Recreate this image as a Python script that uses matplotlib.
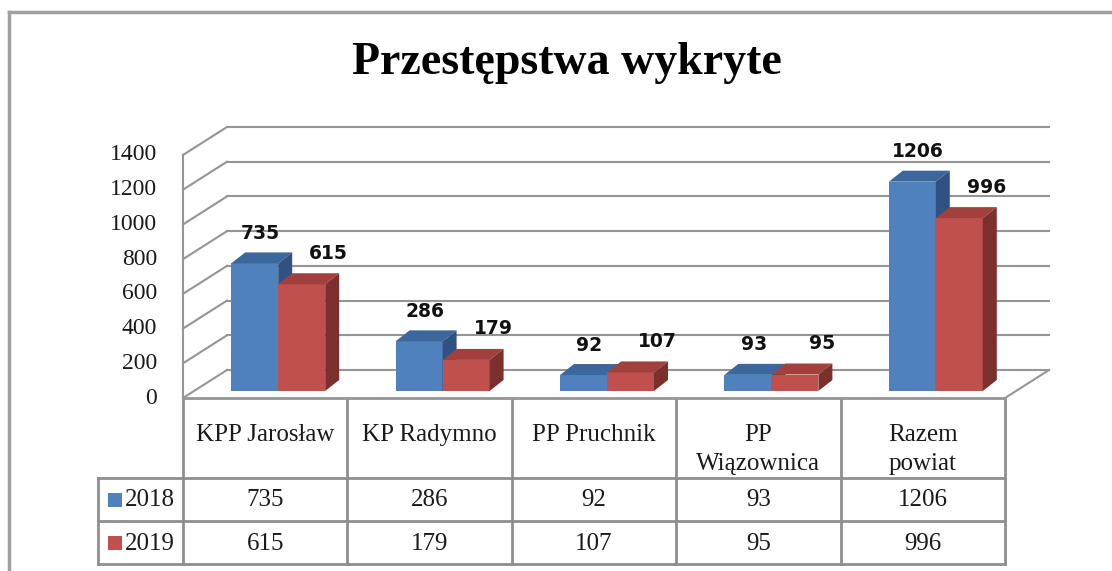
import matplotlib
matplotlib.use("Agg")
import matplotlib.pyplot as plt
from matplotlib.patches import Polygon, Rectangle

# ---------------- data ----------------
categories = ["KPP Jarosław", "KP Radymno", "PP Pruchnik", "PP\nWiązownica", "Razem\npowiat"]
series_names = ["2018", "2019"]
values_2018 = [735, 286, 92, 93, 1206]
values_2019 = [615, 179, 107, 95, 996]
y_ticks = [0, 200, 400, 600, 800, 1000, 1200, 1400]
title = "Przestępstwa wykryte"

# ---------------- style ----------------
front_cols = ["#4F81BD", "#C0504D"]
top_cols = ["#3C679C", "#A1403D"]
side_cols = ["#2F5283", "#7C302E"]
grid_col = "#959595"
serif = ["Liberation Serif", "DejaVu Serif"]
sans = ["DejaVu Sans"]

W, H = 1112, 571
fig = plt.figure(figsize=(W / 100, H / 100), dpi=100)

# layout (pixels)
X0, X1 = 183, 1005     # front floor edge
YZ, YT = 398, 155      # front plane: value 0 and 1400
ax = fig.add_axes([X0 / W, 1 - YZ / H, (X1 - X0) / W, (YZ - YT) / H])
ncat = len(categories)
ax.set_xlim(0, ncat)
ax.set_ylim(0, y_ticks[-1])
ax.axis("off")

sx = (X1 - X0) / ncat            # px per category
sy = (YZ - YT) / y_ticks[-1]     # px per value unit


def ddx(px):
    return px / sx


def ddy(px):
    return px / sy


# walls
WDX, WDY = 44, 28
for t in y_ticks:
    ax.plot([0, ddx(WDX)], [t, t + ddy(WDY)], color=grid_col, lw=1.5, clip_on=False, zorder=1)
    ax.plot([ddx(WDX), ncat + ddx(WDX)], [t + ddy(WDY)] * 2, color=grid_col, lw=1.5,
            clip_on=False, zorder=1)
ax.plot([0, 0], [0, y_ticks[-1]], color=grid_col, lw=1.5, clip_on=False, zorder=1)
ax.plot([ncat, ncat + ddx(WDX)], [0, ddy(WDY)], color=grid_col, lw=1.5, clip_on=False, zorder=1)

# y tick labels
for t in y_ticks:
    ax.text(-ddx(26), t, str(t), ha="right", va="center", fontsize=17,
            family=serif, color="#1a1a1a", clip_on=False)

# bars
PDX, PDY = 13, 7      # plane of the bars
BW = 47               # bar width (px)
BDX, BDY = 14, 11     # bar depth
label_off = [(6, 30), (27, 31)]
base = ddy(PDY)
for i in range(ncat):
    c = i + 0.5 + ddx(PDX)
    for s, vals in enumerate([values_2018, values_2019]):
        v = vals[i]
        x0 = c - ddx(BW) + s * ddx(BW)
        x1 = x0 + ddx(BW)
        top = base + v
        z = 3 + s
        ax.add_patch(Rectangle((x0, base), ddx(BW), v, facecolor=front_cols[s],
                               edgecolor="none", clip_on=False, zorder=z))
        ax.add_patch(Polygon([(x0, top), (x1, top), (x1 + ddx(BDX), top + ddy(BDY)),
                              (x0 + ddx(BDX), top + ddy(BDY))], closed=True,
                             facecolor=top_cols[s], edgecolor="none", clip_on=False, zorder=z))
        ax.add_patch(Polygon([(x1, base), (x1 + ddx(BDX), base + ddy(BDY)),
                              (x1 + ddx(BDX), top + ddy(BDY)), (x1, top)], closed=True,
                             facecolor=side_cols[s], edgecolor="none", clip_on=False, zorder=z))
        ox, oy = label_off[s]
        ax.text((x0 + x1) / 2 + ddx(ox), top + ddy(oy), str(v), ha="center", va="center",
                fontsize=13.5, fontweight="bold", family=sans, color="#111111",
                clip_on=False, zorder=10)

ax.plot([0, ncat], [0, 0], color=grid_col, lw=2, clip_on=False, zorder=2)

# title
fig.text((353 + 780) / 2 / W, 1 - 74 / H, title, ha="center", va="baseline",
         fontsize=33, fontweight="bold", family=serif, color="#000000")

# ---------------- table (pixel overlay) ----------------
tab = fig.add_axes([0, 0, 1, 1], zorder=-1)
tab.set_xlim(0, W)
tab.set_ylim(H, 0)
tab.axis("off")
tcol = "#8E8E8E"
LX = 98
ROWS = [400, 478, 521, 564]
cols = [X0 + k * sx for k in range(ncat + 1)]
for x in cols:
    tab.plot([x, x], [ROWS[0], ROWS[-1]], color=tcol, lw=2)
tab.plot([LX, LX], [ROWS[1], ROWS[-1]], color=tcol, lw=2)
for y in ROWS[1:]:
    tab.plot([LX, X1], [y, y], color=tcol, lw=2)

for k, cat in enumerate(categories):
    cx = (cols[k] + cols[k + 1]) / 2
    tab.text(cx, 424, cat, ha="center", va="top", fontsize=18, family=serif,
             linespacing=1.42, color="#1a1a1a")

for s, (name, vals) in enumerate(zip(series_names, [values_2018, values_2019])):
    yc = (ROWS[s + 1] + ROWS[s + 2]) / 2
    tab.add_patch(Rectangle((108, yc - 7), 14, 14, facecolor=front_cols[s], edgecolor="none"))
    tab.text(125, yc + 1, name, ha="left", va="center", fontsize=18, family=serif,
             color="#1a1a1a")
    for k, v in enumerate(vals):
        cx = (cols[k] + cols[k + 1]) / 2
        tab.text(cx, yc + 1, str(v), ha="center", va="center", fontsize=18, family=serif,
                 color="#1a1a1a")

# outer frame
tab.plot([9, W], [12, 12], color="#A0A0A0", lw=2.5)
tab.plot([9, 9], [12, H], color="#A0A0A0", lw=2.5)

fig.savefig("out.png", dpi=100)
